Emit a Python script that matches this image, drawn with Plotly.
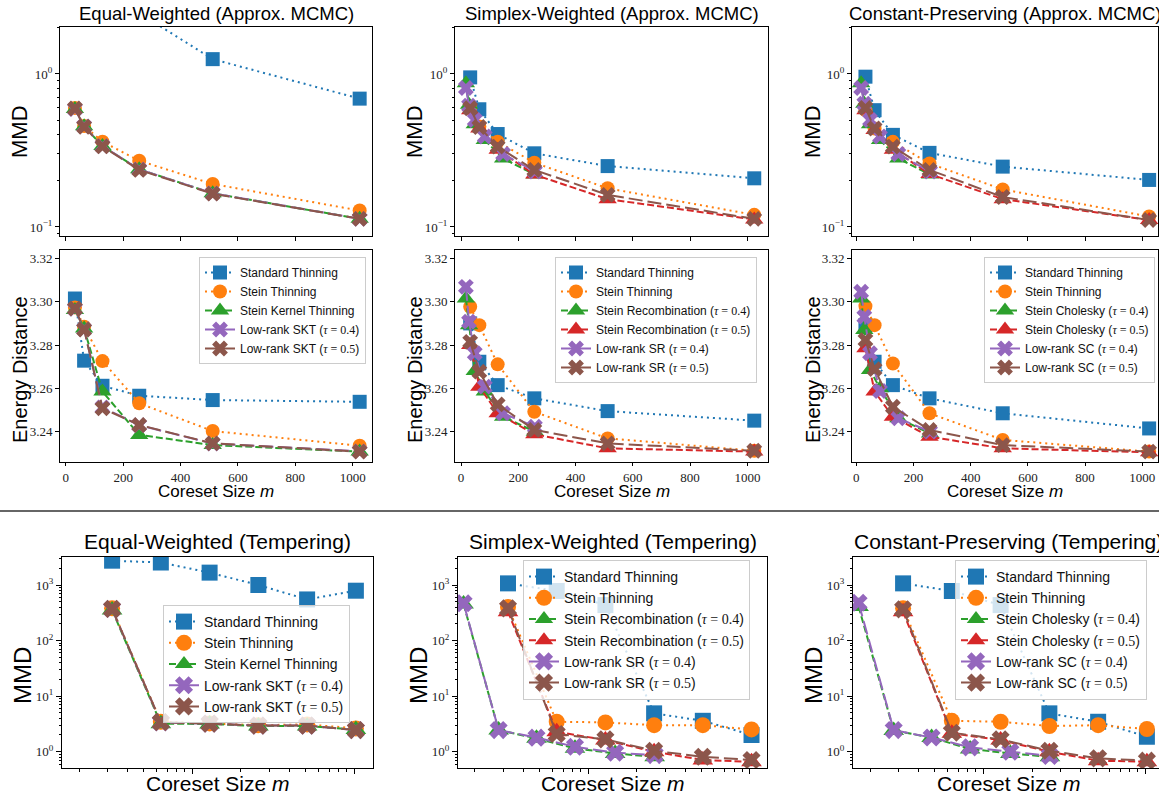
import plotly.graph_objects as go

W, H = 1159, 795
def px(x): return x / W
def py(y): return 1 - y / H

# ---------------- data ----------------
m_std = [32, 64, 128, 256, 512, 1024]
m_low = [17, 28, 48, 83, 147, 258]

# Equal-Weighted (Approx. MCMC)
ew_mmd_std = [6.0, 4.6, 3.4, 2.5, 1.25, 0.69]
ew_mmd_st = [0.60, 0.457, 0.361, 0.271, 0.191, 0.128]
ew_mmd_skt = [0.59, 0.455, 0.338, 0.238, 0.166, 0.113]
ew_mmd_lr4 = [0.59, 0.455, 0.338, 0.238, 0.166, 0.113]
ew_mmd_lr5 = [0.595, 0.452, 0.336, 0.236, 0.165, 0.113]
ew_ed_std = [3.3015, 3.2728, 3.2612, 3.2566, 3.2546, 3.2538]
ew_ed_st = [3.2974, 3.2885, 3.2726, 3.2531, 3.2403, 3.2335]
ew_ed_skt = [3.2962, 3.2877, 3.2585, 3.2385, 3.2338, 3.2308]
ew_ed_lr4 = [3.2967, 3.2873, 3.2512, 3.2430, 3.2345, 3.2309]
ew_ed_lr5 = [3.2969, 3.2872, 3.2508, 3.2431, 3.2346, 3.2308]

# Simplex-Weighted (Approx. MCMC)
sw_mmd_std = [0.95, 0.588, 0.405, 0.303, 0.25, 0.208]
sw_mmd_st = [0.597, 0.453, 0.361, 0.263, 0.179, 0.12]
sw_mmd_sr4 = [0.87, 0.63, 0.47, 0.37, 0.28, 0.22]
sw_mmd_sr5 = [0.58, 0.44, 0.32, 0.22, 0.152, 0.112]
sw_mmd_lr4 = [0.81, 0.62, 0.50, 0.39, 0.30, 0.23]
sw_mmd_lr5 = [0.597, 0.45, 0.335, 0.236, 0.162, 0.113]
sw_ed_std = [3.290, 3.2723, 3.2615, 3.2554, 3.2495, 3.2451]
sw_ed_st = [3.2977, 3.2892, 3.2711, 3.2492, 3.2369, 3.2312]
sw_ed_sr4 = [3.3015, 3.2892, 3.268, 3.2585, 3.2469, 3.240]
sw_ed_sr5 = [3.280, 3.2608, 3.2485, 3.2388, 3.2323, 3.2308]
sw_ed_lr4 = [3.3069, 3.2908, 3.2762, 3.2608, 3.2485, 3.2423]
sw_ed_lr5 = [3.2815, 3.2677, 3.2526, 3.2408, 3.2346, 3.2312]

# Constant-Preserving (Approx. MCMC)
cp_mmd_std = [0.96, 0.58, 0.40, 0.305, 0.248, 0.203]
cp_mmd_st = [0.58, 0.44, 0.36, 0.26, 0.176, 0.117]
cp_mmd_sc4 = [0.87, 0.64, 0.47, 0.37, 0.28, 0.22]
cp_mmd_sc5 = [0.58, 0.43, 0.32, 0.222, 0.152, 0.111]
cp_mmd_lr4 = [0.81, 0.64, 0.50, 0.39, 0.30, 0.23]
cp_mmd_lr5 = [0.60, 0.44, 0.335, 0.236, 0.157, 0.111]
cp_ed_std = [3.2892, 3.2723, 3.2615, 3.2554, 3.2485, 3.2415]
cp_ed_st = [3.298, 3.2892, 3.2715, 3.2485, 3.2362, 3.2308]
cp_ed_sc4 = [3.3015, 3.287, 3.2685, 3.2600, 3.2462, 3.2392]
cp_ed_sc5 = [3.2785, 3.2585, 3.2469, 3.2377, 3.2323, 3.2305]
cp_ed_lr4 = [3.3046, 3.2931, 3.2762, 3.2588, 3.2462, 3.240]
cp_ed_lr5 = [3.2823, 3.2689, 3.2515, 3.2408, 3.2338, 3.2308]

# Tempering
ewt_std = [2740, 2540, 1670, 1000, 550, 790]
ewt_st = [380, 3.46, 3.23, 3.0, 3.1, 2.63]
ewt_skt = [355, 3.2, 3.15, 2.9, 2.9, 2.5]
ewt_lr4 = [370, 3.35, 3.2, 2.95, 2.95, 2.45]
ewt_lr5 = [372, 3.4, 3.2, 2.95, 2.95, 2.45]

swt_std = [1070, 780, 435, 4.9, 3.6, 2.0]
swt_st = [400, 3.46, 3.37, 3.0, 3.0, 2.52]
swt_sr4 = [455, 2.45, 1.74, 1.15, 0.93, 0.81]
swt_sr5 = [330, 2.29, 1.62, 1.0, 0.71, 0.66]
swt_lr4 = [470, 2.45, 1.79, 1.23, 0.96, 0.87]
swt_lr5 = [380, 2.08, 1.67, 1.04, 0.81, 0.71]

cpt_std = [1070, 780, 435, 4.9, 3.46, 1.86]
cpt_st = [380, 3.6, 3.46, 2.9, 3.0, 2.56]
cpt_sc4 = [410, 2.4, 1.8, 1.12, 0.93, 0.81]
cpt_sc5 = [330, 2.14, 1.62, 1.0, 0.69, 0.66]
cpt_lr4 = [480, 2.45, 1.8, 1.2, 1.0, 0.84]
cpt_lr5 = [365, 2.2, 1.67, 1.04, 0.76, 0.69]

col_titles_top = ["Equal-Weighted (Approx. MCMC)", "Simplex-Weighted (Approx. MCMC)",
                  "Constant-Preserving (Approx. MCMC)"]
col_titles_bot = ["Equal-Weighted (Tempering)", "Simplex-Weighted (Tempering)",
                  "Constant-Preserving (Tempering)"]

def tau(v):
    return '(<span style="font-family:Liberation Serif"><i>τ</i> = %s</span>)' % v

names_ew = ["Standard Thinning", "Stein Thinning", "Stein Kernel Thinning",
            "Low-rank SKT " + tau("0.4"), "Low-rank SKT " + tau("0.5")]
names_sw = ["Standard Thinning", "Stein Thinning", "Stein Recombination " + tau("0.4"),
            "Stein Recombination " + tau("0.5"), "Low-rank SR " + tau("0.4"),
            "Low-rank SR " + tau("0.5")]
names_cp = ["Standard Thinning", "Stein Thinning", "Stein Cholesky " + tau("0.4"),
            "Stein Cholesky " + tau("0.5"), "Low-rank SC " + tau("0.4"),
            "Low-rank SC " + tau("0.5")]

STY = {
    'std': dict(color='#1f77b4', symbol='square', dash='2px,4px'),
    'st': dict(color='#ff7f0e', symbol='circle', dash='2px,4px'),
    'g': dict(color='#2ca02c', symbol='triangle-up', dash='7px,3px'),
    'r': dict(color='#d62728', symbol='triangle-up', dash='7px,3px'),
    'p': dict(color='#9467bd', symbol='x', dash='14px,5px'),
    'b': dict(color='#8c564b', symbol='x', dash='14px,5px'),
}

fig = go.Figure()

def ax_ids(i):
    return ('x' if i == 1 else f'x{i}'), ('y' if i == 1 else f'y{i}')

def add(i, x, y, key, name, legend, show, size):
    xa, ya = ax_ids(i)
    s = STY[key]
    msize = size + (2 if key in ('g', 'r') else 0)
    fig.add_trace(go.Scatter(
        x=x, y=y, xaxis=xa, yaxis=ya, name=name, mode='lines+markers',
        line=dict(color=s['color'], width=2, dash=s['dash']),
        marker=dict(symbol=s['symbol'], size=msize, color=s['color'], line=dict(width=0)),
        legend=legend, showlegend=show))

for i, sets, show in [(1, [ew_mmd_std, ew_mmd_st, ew_mmd_skt, ew_mmd_lr4, ew_mmd_lr5], False),
                      (4, [ew_ed_std, ew_ed_st, ew_ed_skt, ew_ed_lr4, ew_ed_lr5], True)]:
    for ys, key, nm in zip(sets, ['std', 'st', 'g', 'p', 'b'], names_ew):
        add(i, m_std, ys, key, nm, 'legend', show, 14)

for i, sets, show in [(2, [sw_mmd_std, sw_mmd_st, sw_mmd_sr4, sw_mmd_sr5, sw_mmd_lr4, sw_mmd_lr5], False),
                      (5, [sw_ed_std, sw_ed_st, sw_ed_sr4, sw_ed_sr5, sw_ed_lr4, sw_ed_lr5], True)]:
    for ys, key, nm, xs in zip(sets, ['std', 'st', 'g', 'r', 'p', 'b'], names_sw,
                               [m_std, m_std, m_low, m_std, m_low, m_std]):
        add(i, xs, ys, key, nm, 'legend2', show, 14)

for i, sets, show in [(3, [cp_mmd_std, cp_mmd_st, cp_mmd_sc4, cp_mmd_sc5, cp_mmd_lr4, cp_mmd_lr5], False),
                      (6, [cp_ed_std, cp_ed_st, cp_ed_sc4, cp_ed_sc5, cp_ed_lr4, cp_ed_lr5], True)]:
    for ys, key, nm, xs in zip(sets, ['std', 'st', 'g', 'r', 'p', 'b'], names_cp,
                               [m_std, m_std, m_low, m_std, m_low, m_std]):
        add(i, xs, ys, key, nm, 'legend3', show, 14)

for ys, key, nm in zip([ewt_std, ewt_st, ewt_skt, ewt_lr4, ewt_lr5], ['std', 'st', 'g', 'p', 'b'], names_ew):
    add(7, m_std, ys, key, nm, 'legend4', True, 16)
for ys, key, nm, xs in zip([swt_std, swt_st, swt_sr4, swt_sr5, swt_lr4, swt_lr5],
                           ['std', 'st', 'g', 'r', 'p', 'b'], names_sw,
                           [m_std, m_std, m_low, m_std, m_low, m_std]):
    add(8, xs, ys, key, nm, 'legend5', True, 16)
for ys, key, nm, xs in zip([cpt_std, cpt_st, cpt_sc4, cpt_sc5, cpt_lr4, cpt_lr5],
                           ['std', 'st', 'g', 'r', 'p', 'b'], names_cp,
                           [m_std, m_std, m_low, m_std, m_low, m_std]):
    add(9, xs, ys, key, nm, 'legend6', True, 16)

# ---------------- axes ----------------
TICKFONT = dict(family='Liberation Serif', size=13, color='#222')
base = dict(showline=True, mirror=True, linecolor='black', linewidth=1, ticks='outside',
            ticklen=4, tickcolor='black', showgrid=False, zeroline=False, tickfont=TICKFONT)

cols_top = [(60, 372), (455, 768), (852, 1158)]
cols_bot = [(62, 373), (458, 767), (853, 1159)]
row_mmd = (27, 236)
row_ed = (250, 462)
row_bot = (557, 768)
xr_top = [[-20, 1067], [-21, 1072], [-15, 1055]]
xr_bot = [[1.196, 3.116], [1.196, 3.106], [1.196, 3.085]]

layout = {}
def set_axes(i, xdom, ydom, xkw, ykw):
    xa, ya = ax_ids(i)
    xn = 'xaxis' if i == 1 else f'xaxis{i}'
    yn = 'yaxis' if i == 1 else f'yaxis{i}'
    d = dict(base); d.update(domain=[px(xdom[0]), px(xdom[1])], anchor=ya); d.update(xkw)
    layout[xn] = d
    d = dict(base); d.update(domain=[py(ydom[1]), py(ydom[0])], anchor=xa); d.update(ykw)
    layout[yn] = d

mmd_minor = [0.09] + [k / 10 for k in range(2, 10)] + [2]
bot_minor = [k / 10 for k in range(5, 10)] + [k * 10 ** e for e in range(0, 4) for k in range(2, 10)
                                               if k * 10 ** e <= 3000]
xbot_minor = [k * 10 for k in range(2, 10)] + [k * 100 for k in range(2, 10)]
xtop_ticks = [0, 200, 400, 600, 800, 1000]

for c in range(3):
    set_axes(c + 1, cols_top[c], row_mmd,
             dict(range=xr_top[c], tickvals=xtop_ticks, showticklabels=False),
             dict(type='log', range=[-1.059, 0.307], tickvals=[0.1, 1],
                  ticktext=['10<sup>−1</sup>', '10<sup>0</sup>'],
                  minor=dict(tickvals=mmd_minor, ticks='outside', ticklen=2, tickcolor='black')))
    set_axes(c + 4, cols_top[c], row_ed,
             dict(range=xr_top[c], tickvals=xtop_ticks, ticktext=[str(v) for v in xtop_ticks],
                  ticklen=3),
             dict(range=[3.226, 3.3239], tickvals=[3.24, 3.26, 3.28, 3.30, 3.32],
                  ticktext=['3.24', '3.26', '3.28', '3.30', '3.32']))
    set_axes(c + 7, cols_bot[c], row_bot,
             dict(type='log', range=xr_bot[c], tickvals=[100, 1000], showticklabels=False, ticklen=5,
                  minor=dict(tickvals=xbot_minor, ticks='outside', ticklen=2.5, tickcolor='black')),
             dict(type='log', range=[-0.293, 3.504], tickvals=[1, 10, 100, 1000],
                  ticktext=['10<sup>0</sup>', '10<sup>1</sup>', '10<sup>2</sup>', '10<sup>3</sup>'],
                  ticklen=5,
                  minor=dict(tickvals=bot_minor, ticks='outside', ticklen=2.5, tickcolor='black')))

# ---------------- legends ----------------
def leg(x, y, xanchor, size):
    return dict(x=px(x), y=py(y), xanchor=xanchor, yanchor='top', xref='paper', yref='paper',
                bgcolor='rgba(255,255,255,0.8)', bordercolor='#cccccc', borderwidth=1,
                font=dict(family='Liberation Sans', size=size, color='#111'),
                itemwidth=30, tracegroupgap=0)

layout['legend'] = leg(366, 257, 'right', 12)
layout['legend2'] = leg(757, 257, 'right', 12)
layout['legend3'] = leg(984, 257, 'left', 12)
layout['legend4'] = leg(163, 605, 'left', 14)
layout['legend5'] = leg(523, 560, 'left', 14)
layout['legend6'] = leg(955, 560, 'left', 14)

# ---------------- text ----------------
TF = 'Liberation Sans'
ann = []
def text(x, y, t, size, angle=0):
    ann.append(dict(x=px(x), y=py(y), xref='paper', yref='paper', text=t, showarrow=False,
                    font=dict(family=TF, size=size, color='black'), textangle=angle,
                    xanchor='center', yanchor='middle'))

for c in range(3):
    cx = (cols_top[c][0] + cols_top[c][1]) / 2
    text(cx, 14, col_titles_top[c], 18.5)
    cxb = (cols_bot[c][0] + cols_bot[c][1] + (5 if c == 2 else 0)) / 2
    text(cxb, 541, col_titles_bot[c], 21)
    text(cx, 491, 'Coreset Size <i>m</i>', 17)
    text(cxb, 783, 'Coreset Size <i>m</i>', 21)

for xpos in [20, 415, 813]:
    text(xpos, 132, 'MMD', 22, -90)
    text(xpos, 370, 'Energy Distance', 20, -90)
for xpos in [22, 418, 813]:
    text(xpos, 676, 'MMD', 24, -90)

layout['annotations'] = ann
layout['shapes'] = [dict(type='line', xref='paper', yref='paper', x0=0, x1=1, y0=py(511), y1=py(511),
                         line=dict(color='#333333', width=1.5))]
layout.update(width=W, height=H, margin=dict(l=0, r=0, t=0, b=0),
              paper_bgcolor='white', plot_bgcolor='white')
fig.update_layout(**layout)
fig.write_html("out.html", config={'displayModeBar': False},
               post_script="document.body.style.margin='0';document.body.style.overflow='hidden';")
